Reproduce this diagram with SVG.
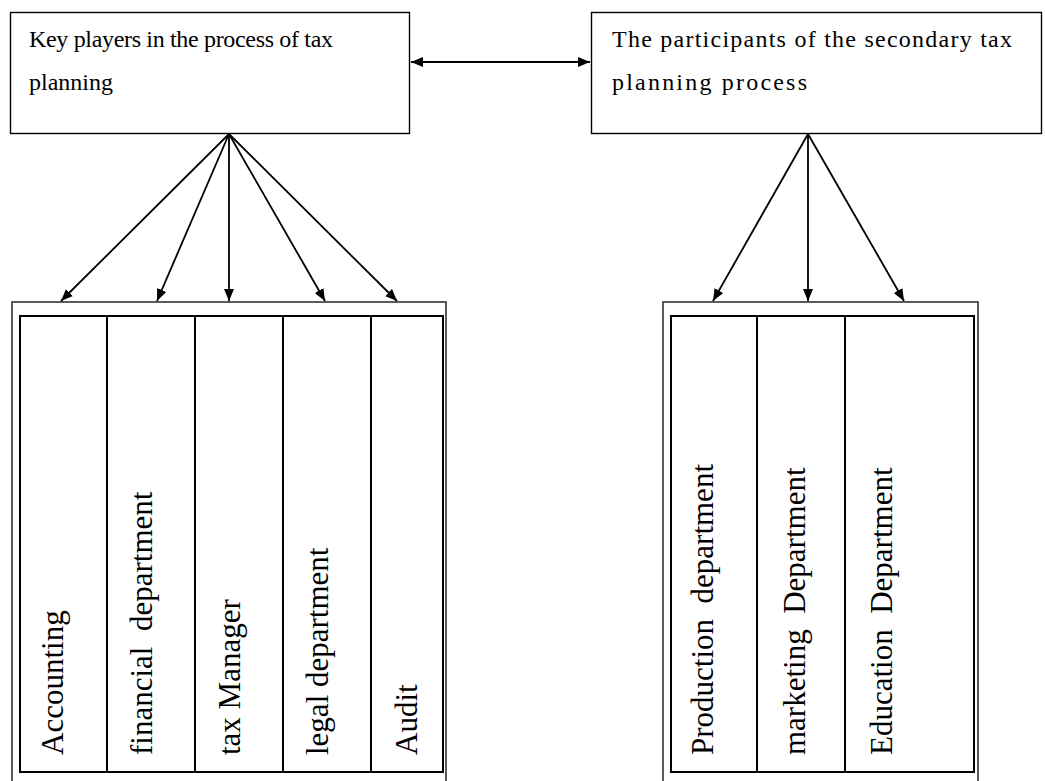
<svg xmlns="http://www.w3.org/2000/svg" width="1045" height="781" viewBox="0 0 1045 781">
<style>
.box{fill:#fff;stroke:#000;stroke-width:1.4}
.outer{fill:none;stroke:#333;stroke-width:1.6}
.inner{fill:none;stroke:#000;stroke-width:2}
.div{stroke:#000;stroke-width:2}
.t{font-family:"Liberation Serif","Times New Roman",serif;font-size:24px;fill:#000}
.v{font-family:"Liberation Serif","Times New Roman",serif;font-size:31px;fill:#000}
.c{stroke:#000;stroke-width:1.8;fill:none;marker-end:url(#ah)}
</style>
<defs>
<marker id="ah" markerUnits="userSpaceOnUse" markerWidth="14" markerHeight="12" refX="12" refY="5" orient="auto-start-reverse">
<path d="M0,0 L12,5 L0,10 z" fill="#000"/>
</marker>
</defs>
<g id="key-players">
<rect class="box" x="10.5" y="12.5" width="399" height="121"/>
<text class="t" x="29" y="47" textLength="304" lengthAdjust="spacing">Key players in the process of tax</text>
<text class="t" x="29" y="90" textLength="84" lengthAdjust="spacing">planning</text>
</g>
<g id="secondary-participants">
<rect class="box" x="591.5" y="12.5" width="450" height="121"/>
<text class="t" x="612" y="47" textLength="400" lengthAdjust="spacing">The participants of the secondary tax</text>
<text class="t" x="612" y="90" textLength="195" lengthAdjust="spacing">planning process</text>
</g>
<g id="left-departments">
<rect class="outer" x="12" y="302" width="434" height="500"/>
<rect class="inner" x="20" y="316" width="423" height="456"/>
<line class="div" x1="107" y1="316" x2="107" y2="772"/>
<line class="div" x1="195" y1="316" x2="195" y2="772"/>
<line class="div" x1="283" y1="316" x2="283" y2="772"/>
<line class="div" x1="371" y1="316" x2="371" y2="772"/>
<text class="v" transform="translate(63,755) rotate(-90)">Accounting</text>
<text class="v" transform="translate(152,755) rotate(-90)" xml:space="preserve">financial  department</text>
<text class="v" transform="translate(240,755) rotate(-90)">tax Manager</text>
<text class="v" transform="translate(328,755) rotate(-90)">legal department</text>
<text class="v" transform="translate(417,755) rotate(-90)">Audit</text>
</g>
<g id="right-departments">
<rect class="outer" x="663" y="302" width="315" height="500"/>
<rect class="inner" x="671" y="316" width="303" height="456"/>
<line class="div" x1="757" y1="316" x2="757" y2="772"/>
<line class="div" x1="845" y1="316" x2="845" y2="772"/>
<text class="v" transform="translate(713,755) rotate(-90)" xml:space="preserve">Production  department</text>
<text class="v" transform="translate(805,755) rotate(-90)" xml:space="preserve">marketing  Department</text>
<text class="v" transform="translate(892,755) rotate(-90)" xml:space="preserve">Education  Department</text>
</g>
<g id="connectors">
<line class="c" x1="411" y1="62" x2="590" y2="62" marker-start="url(#ah)"/>
<line class="c" x1="229" y1="134" x2="61" y2="301"/>
<line class="c" x1="229" y1="134" x2="157" y2="301"/>
<line class="c" x1="229" y1="134" x2="229" y2="301"/>
<line class="c" x1="229" y1="134" x2="325" y2="301"/>
<line class="c" x1="229" y1="134" x2="397" y2="301"/>
<line class="c" x1="808" y1="134" x2="713" y2="301"/>
<line class="c" x1="808" y1="134" x2="808" y2="301"/>
<line class="c" x1="808" y1="134" x2="904" y2="301"/>
</g>
</svg>
